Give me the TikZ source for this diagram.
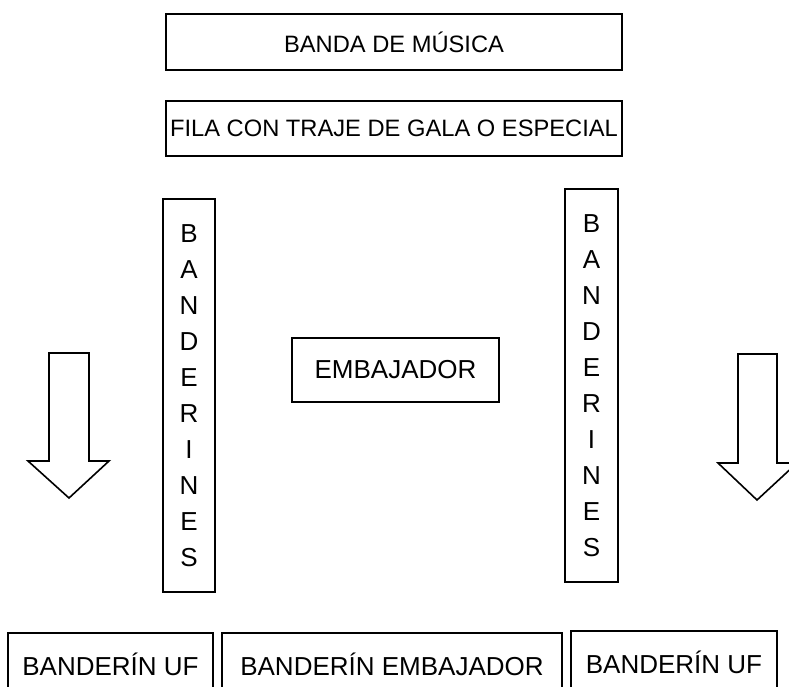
\documentclass[tikz,border=0pt]{standalone}
\usepackage{fontspec}
\setmainfont{Liberation Sans}
\usetikzlibrary{positioning}

\begin{document}
\begin{tikzpicture}[x=1pt, y=-1pt, node distance=7pt,
    box/.style={rectangle, draw, line width=2pt, inner sep=0pt, text centered},
    toptext/.style={font=\fontsize{23.7}{28}\selectfont},
    midtext/.style={font=\fontsize{26}{30}\selectfont},
    coltext/.style={font=\fontsize{26}{36}\selectfont, align=center},
    blockarrow/.style={draw, line width=1.6pt, line join=miter}]
    \clip (0,0) rectangle (789,686);

    % Nodes
    \node (banda) [box, toptext, minimum width=456pt, minimum height=56pt] at (394,42) {BANDA DE MÚSICA};
    \node (fila) [box, toptext, minimum width=456pt, minimum height=55pt, below=29pt of banda] {FILA CON TRAJE DE GALA O ESPECIAL};

    \node (banleft) [box, coltext, minimum width=52pt, minimum height=393pt] at (189,395.5) {B\\A\\N\\D\\E\\R\\I\\N\\E\\S};
    \node (banright) [box, coltext, minimum width=53pt, minimum height=393pt] at (591.5,385.5) {B\\A\\N\\D\\E\\R\\I\\N\\E\\S};

    \node (emb) [box, midtext, minimum width=207pt, minimum height=64pt] at (395.5,370) {EMBAJADOR};

    \node (bufa) [box, midtext, minimum width=205pt, minimum height=62pt] at (110.5,664) {BANDERÍN UF};
    \node (bemb) [box, midtext, minimum width=340pt, minimum height=62pt, right=of bufa] {BANDERÍN EMBAJADOR};
    \node (bufb) [box, midtext, minimum width=206pt, minimum height=62pt, right=of bemb, yshift=2pt] {BANDERÍN UF};

    % Arrows
    \draw [blockarrow] (49,353) -- (89,353) -- (89,461) -- (109,461) -- (69,498) -- (28,461) -- (49,461) -- cycle;
    \draw [blockarrow] (738,354) -- (777,354) -- (777,463) -- (797,463) -- (757,500) -- (718,463) -- (738,463) -- cycle;
\end{tikzpicture}
\end{document}
